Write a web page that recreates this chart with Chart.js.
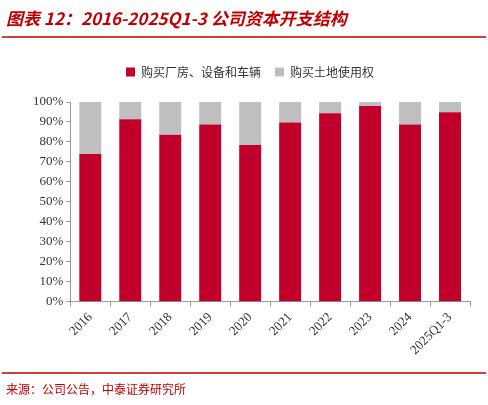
<!DOCTYPE html>
<html><head><meta charset="utf-8">
<script src="https://cdn.jsdelivr.net/npm/chart.js@4"></script>
<style>html,body{margin:0;padding:0;background:#fff}#w{width:488px;height:405px;position:relative}</style>
</head><body><div id="w"><canvas id="c"></canvas></div>
<script>
const categories=['2016','2017','2018','2019','2020','2021','2022','2023','2024','2025Q1-3'];
const equipment=[74,91.3,83.6,88.7,78.5,89.7,94.4,98,88.7,94.9];
const land=equipment.map(v=>+(100-v).toFixed(1));
const deco={id:'deco',afterDraw(ch){const x=ch.ctx;x.save();
x.fillStyle='#c00000';x.font='italic bold 17px "Noto Sans CJK SC"';x.textBaseline='middle';
x.fillText('图表 12：2016-2025Q1-3 公司资本开支结构',6,19);
x.strokeStyle='#c00000';x.lineWidth=1.5;x.beginPath();x.moveTo(2,37);x.lineTo(486,37);x.stroke();
x.beginPath();x.moveTo(2,373);x.lineTo(486,373);x.stroke();
x.font='12px "Noto Sans CJK SC"';x.fillText('来源：公司公告，中泰证券研究所',6,389);x.restore();}};
const legendGap={id:'legendGap',beforeInit(ch){const f=ch.legend.fit;ch.legend.fit=function(){f.bind(ch.legend)();this.height+=14;};}};
new Chart(document.getElementById('c'),{type:'bar',
data:{labels:categories,datasets:[
{label:'购买厂房、设备和车辆',data:equipment,backgroundColor:'#c0002a',barPercentage:0.55,categoryPercentage:1},
{label:'购买土地使用权',data:land,backgroundColor:'#bfbfbf',barPercentage:0.55,categoryPercentage:1}]},
options:{responsive:true,maintainAspectRatio:false,animation:false,
layout:{padding:{top:52,bottom:44,left:30,right:18}},
plugins:{tooltip:{enabled:false},legend:{position:'top',labels:{boxWidth:9,boxHeight:9,padding:14,color:'#333',font:{family:'"Noto Sans CJK SC"',size:12}}}},
scales:{x:{stacked:true,grid:{display:true,drawOnChartArea:false,offset:true,tickLength:5,color:'#999'},border:{color:'#999'},ticks:{color:'#333',maxRotation:45,minRotation:45,font:{family:'"Liberation Serif"',size:13}}},
y:{stacked:true,min:0,max:100,ticks:{stepSize:10,color:'#333',callback:v=>v+'%',font:{family:'"Liberation Serif"',size:13}},grid:{display:true,drawOnChartArea:false,tickLength:4,color:'#999'},border:{color:'#999'}}}},
plugins:[deco,legendGap]});
</script></body></html>
